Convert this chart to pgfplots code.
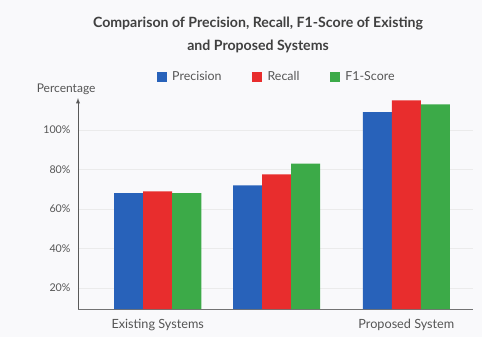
\documentclass[border=0pt]{standalone}
\usepackage{pgfplots}
\pgfplotsset{compat=1.18}
\usepackage{fontspec}
\setmainfont{Lato}
\definecolor{cblue}{RGB}{40,98,186}
\definecolor{cred}{RGB}{232,45,45}
\definecolor{cgreen}{RGB}{60,170,72}
\definecolor{bg}{RGB}{249,249,251}
\definecolor{txt}{RGB}{85,85,85}
\begin{document}
\begin{tikzpicture}
\fill[bg] (0,0) rectangle (361.5pt,252.75pt);
\node[font=\bfseries\fontsize{10.6}{17}\selectfont, text=black!75, align=center] at (193.5pt,226.6pt) {Comparison of Precision, Recall, F1-Score of Existing\\and Proposed Systems};
\begin{axis}[
  at={(58.5pt,21pt)}, anchor=south west, scale only axis,
  width=296.25pt, height=158.25pt,
  xmin=-0.67, xmax=2.65, ymin=9.4, ymax=116.2,
  ybar=0pt, bar width=0.244,
  axis lines=left,
  x axis line style={-, draw=black!55},
  y axis line style={-latex, draw=black!65},
  tick style={draw=none},
  ymajorgrids, grid style={draw=black!8},
  ytick={20,40,60,80,100},
  yticklabel={\pgfmathprintnumber{\tick}\%},
  /pgf/number format/assume math mode=true,
  yticklabel style={font=\fontsize{8}{9}\selectfont, text=txt},
  xtick={0,2.09},
  xticklabels={Existing Systems, Proposed System},
  xticklabel style={font=\fontsize{9.5}{10}\selectfont, text=txt, yshift=-2pt},
  legend style={at={(0.504,1.10)}, anchor=center, draw=none, fill=none,
    font=\fontsize{9.3}{10}\selectfont, text=txt,
    /tikz/every even column/.append style={column sep=21pt},
    /tikz/every odd column/.append style={column sep=2pt}},
  legend columns=3,
  legend image code/.code={\fill[#1] (0pt,-3.75pt) rectangle (7.5pt,3.75pt);},
  clip=false,
]
\addplot[fill=cblue, draw=none] coordinates {(0,68) (1,72) (2.09,109)};
\addplot[fill=cred, draw=none] coordinates {(0,69) (1,77.5) (2.09,115)};
\addplot[fill=cgreen, draw=none] coordinates {(0,68) (1,83) (2.09,113)};
\legend{Precision, Recall, F1-Score}
\node[font=\fontsize{9}{10}\selectfont, text=txt] at (rel axis cs:-0.03,1.04) {Percentage};
\end{axis}
\end{tikzpicture}
\end{document}
